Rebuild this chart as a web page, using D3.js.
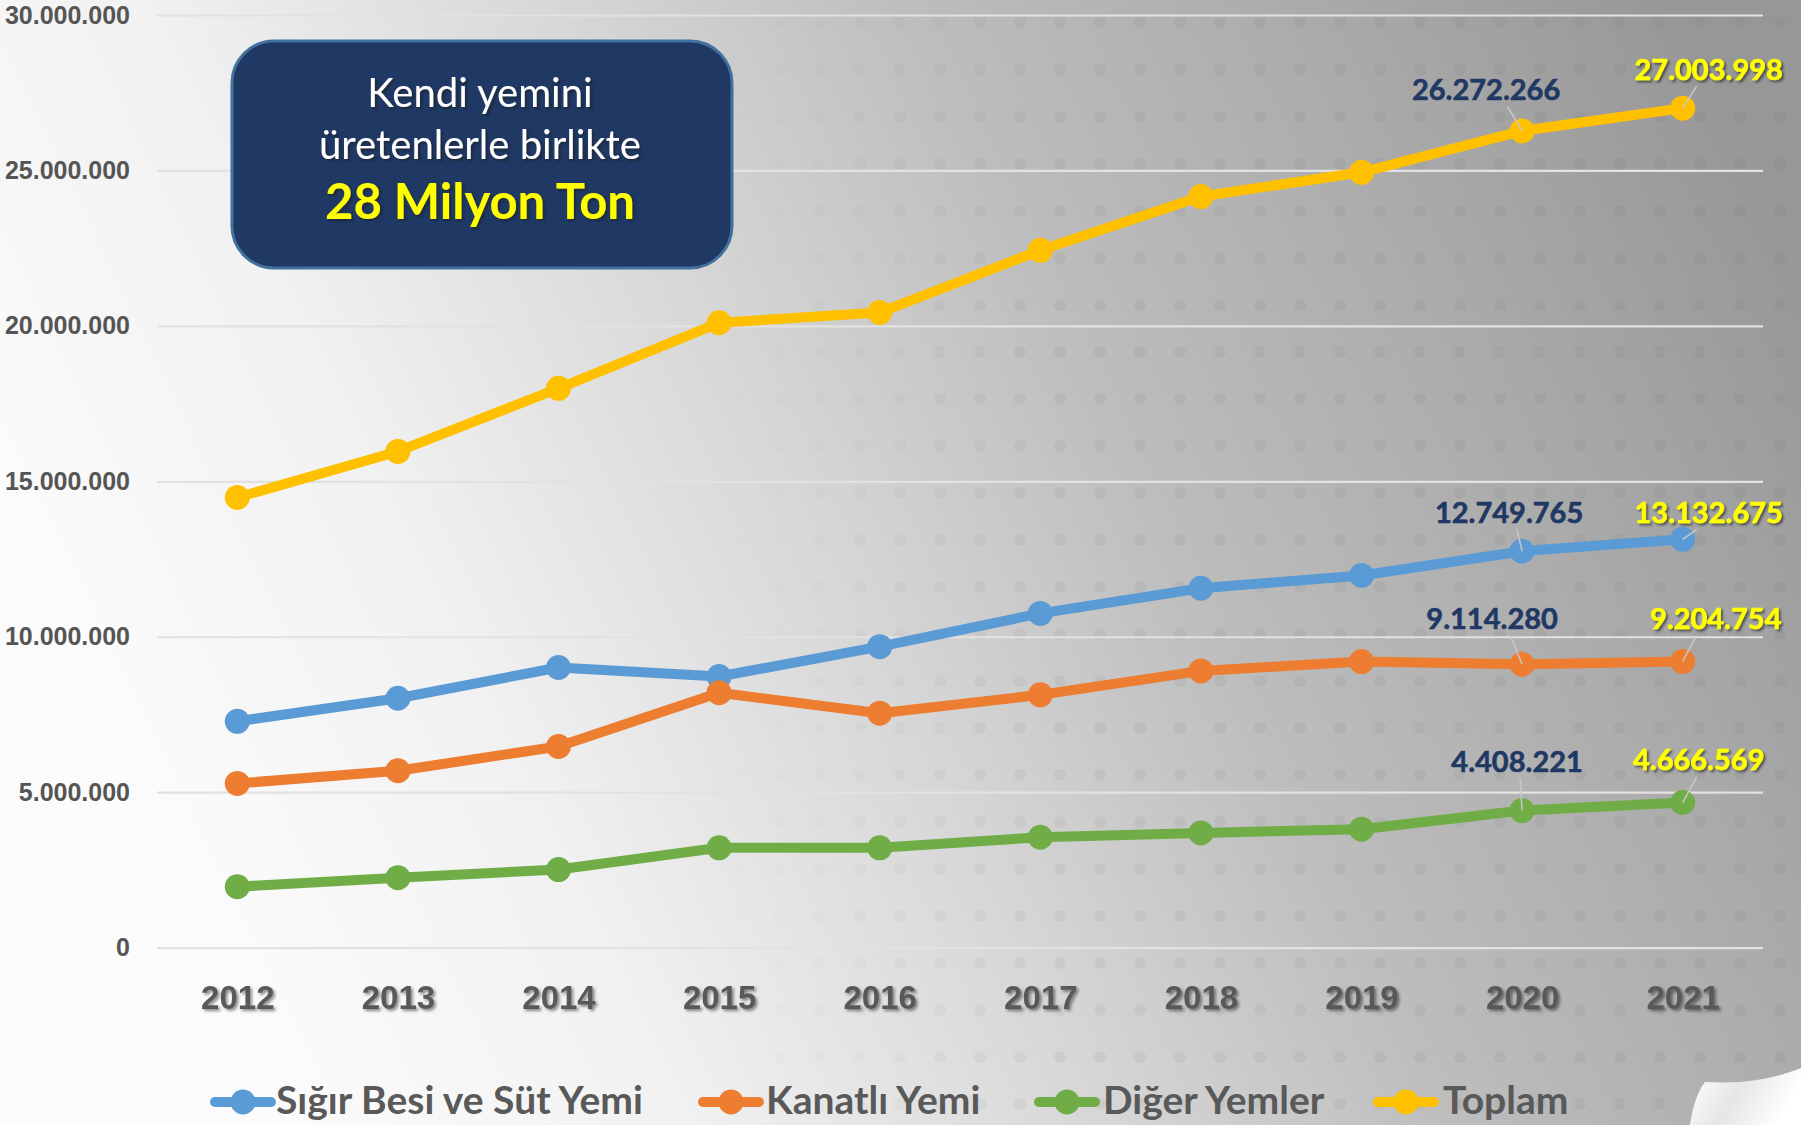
<!DOCTYPE html>
<html>
<head>
<meta charset="utf-8">
<script src="https://cdn.jsdelivr.net/npm/d3@7"></script>
<style>
  html, body { margin: 0; padding: 0; background: #fff; }
  svg { display: block; font-family: Lato, "Open Sans", sans-serif; }
</style>
</head>
<body>
<script>
// veriler (ton)
let yillar = [2012, 2013, 2014, 2015, 2016, 2017, 2018, 2019, 2020, 2021];
let sigirBesi = [7280000, 8020000, 9010000, 8720000, 9680000, 10750000, 11560000, 11970000, 12749765, 13132675];
let kanatli = [5280000, 5690000, 6470000, 8200000, 7540000, 8130000, 8900000, 9200000, 9114280, 9204754];
let digerYemler = [1960000, 2250000, 2510000, 3210000, 3210000, 3550000, 3690000, 3810000, 4408221, 4666569];
let toplam = [14480000, 15960000, 17990000, 20100000, 20430000, 22430000, 24160000, 24940000, 26272266, 27003998];
let seriAdlari = ["Sığır Besi ve Süt Yemi", "Kanatlı Yemi", "Diğer Yemler", "Toplam"];
let yTikler = [0, 5000000, 10000000, 15000000, 20000000, 25000000, 30000000];
let kutuSatirlari = ["Kendi yemini", "üretenlerle birlikte", "28 Milyon Ton"];

let renkler = ["#5b9bd5", "#ed7d31", "#70ad47", "#ffc000"];
// etiket kaydirmalari [2020, 2021] (dx, dy)
let etiketKaydir = [
  [[-13, -39], [26, -27]],
  [[-30, -46], [33, -43]],
  [[-5, -49], [16, -43]],
  [[-36, -41], [26, -39]]
];

function graficar() {
  let w = 1801;
  let h = 1125;
  let svg = d3.select("body").append("svg").attr("width", w).attr("height", h);
  let defs = svg.append("defs");

  // arka plan (sol alt beyaz -> sag ust gri)
  let grad = defs.append("linearGradient").attr("id", "arka").attr("gradientUnits", "userSpaceOnUse")
    .attr("x1", 200).attr("y1", 900).attr("x2", 1750).attr("y2", 150);
  [[0, "#fbfbfb"], [0.2, "#f1f1f1"], [0.42, "#d6d6d6"], [0.6, "#bdbdbd"], [0.8, "#ababab"], [1, "#979797"]]
    .forEach(s => grad.append("stop").attr("offset", s[0]).attr("stop-color", s[1]));

  let nokta = defs.append("pattern").attr("id", "nokta").attr("width", 40).attr("height", 47)
    .attr("patternUnits", "userSpaceOnUse");
  nokta.append("circle").attr("cx", 20).attr("cy", 23).attr("r", 6).attr("fill", "#5a5a5a");

  let solma = defs.append("linearGradient").attr("id", "solma").attr("x1", 0).attr("y1", 0).attr("x2", 1).attr("y2", 0);
  [[0, 0], [0.3, 1], [1, 1]].forEach(s => solma.append("stop").attr("offset", s[0]).attr("stop-color", "#fff").attr("stop-opacity", s[1]));
  defs.append("mask").attr("id", "noktaMaske").append("rect").attr("x", 700).attr("y", 0)
    .attr("width", 1101).attr("height", 1125).attr("fill", "url(#solma)");

  let golge = defs.append("filter").attr("id", "golge").attr("x", -0.2).attr("y", -0.3).attr("width", 1.4).attr("height", 1.6);
  golge.append("feDropShadow").attr("dx", 2).attr("dy", 2).attr("stdDeviation", 1.5)
    .attr("flood-color", "#000").attr("flood-opacity", 0.45);

  let golge2 = defs.append("filter").attr("id", "golge2").attr("x", -0.2).attr("y", -0.3).attr("width", 1.4).attr("height", 1.6);
  golge2.append("feDropShadow").attr("dx", 2).attr("dy", 2).attr("stdDeviation", 1.2)
    .attr("flood-color", "#222").attr("flood-opacity", 0.6);

  svg.append("rect").attr("width", w).attr("height", h).attr("fill", "url(#arka)");
  svg.append("rect").attr("x", 700).attr("y", 0).attr("width", 1101).attr("height", 1125)
    .attr("fill", "url(#nokta)").attr("opacity", 0.07).attr("mask", "url(#noktaMaske)");

  // olcekler
  let x = d3.scalePoint().domain(yillar).range([157, 1763]).padding(0.5);
  let y = d3.scaleLinear().domain([0, 30000000]).range([947.6, 15]);
  let tr = d3.formatLocale({ decimal: ",", thousands: ".", grouping: [3], currency: ["", ""] });
  let fmt = tr.format(",d");

  // y ekseni + izgara
  let yEksen = svg.append("g").attr("transform", "translate(157,0)")
    .call(d3.axisLeft(y).tickValues(yTikler).tickFormat(fmt).tickSize(-1606).tickPadding(27));
  yEksen.select(".domain").remove();
  yEksen.selectAll("line").attr("stroke", "#e2e2e2").attr("stroke-width", 2.2);
  yEksen.selectAll("text").attr("fill", "#555555").attr("font-size", 25).attr("font-weight", 700);

  // x ekseni
  let xEksen = svg.append("g").attr("transform", "translate(0,947.6)")
    .call(d3.axisBottom(x).tickSize(0).tickPadding(38));
  xEksen.select(".domain").remove();
  xEksen.selectAll("text").attr("fill", "#595959").attr("font-size", 33).attr("font-weight", 700)
    .attr("filter", "url(#golge)");

  // kutu
  svg.append("rect").attr("x", 232).attr("y", 41).attr("width", 500).attr("height", 227).attr("rx", 42)
    .attr("fill", "#1f3864").attr("stroke", "#41719c").attr("stroke-width", 3);
  svg.selectAll(".kutu")
    .data(kutuSatirlari)
    .enter()
    .append("text")
    .attr("class", "kutu")
    .attr("x", 480)
    .attr("y", function (d, i) { return [107, 159, 219][i]; })
    .attr("text-anchor", "middle")
    .attr("fill", function (d, i) { return i == 2 ? "#ffff00" : "#ffffff"; })
    .attr("font-size", function (d, i) { return i == 2 ? 49 : 40; })
    .attr("font-weight", function (d, i) { return i == 2 ? 700 : 400; })
    .attr("filter", "url(#golge2)")
    .text(function (d) { return d; });

  // seriler
  let seriler = [sigirBesi, kanatli, digerYemler, toplam];
  let cizgi = d3.line().x(function (d, i) { return x(yillar[i]); }).y(function (d) { return y(d); });

  seriler.forEach(function (s, k) {
    svg.append("path").datum(s).attr("d", cizgi).attr("fill", "none")
      .attr("stroke", renkler[k]).attr("stroke-width", 10).attr("stroke-linejoin", "round");
    svg.selectAll(".nokta" + k)
      .data(s)
      .enter()
      .append("circle")
      .attr("cx", function (d, i) { return x(yillar[i]); })
      .attr("cy", function (d) { return y(d); })
      .attr("r", 12.5)
      .attr("fill", renkler[k]);
  });

  // veri etiketleri (2020 ve 2021)
  seriler.forEach(function (s, k) {
    [8, 9].forEach(function (i, j) {
      let px = x(yillar[i]);
      let py = y(s[i]);
      let o = etiketKaydir[k][j];
      let lx = j == 0 ? px + o[0] * 0.4 : px + 14;
      let ly = py + o[1] + 17;
      svg.append("line").attr("x1", px).attr("y1", py).attr("x2", lx).attr("y2", ly)
        .attr("stroke", "#c8c8c8").attr("stroke-width", 1.5);
      svg.append("text")
        .attr("x", px + o[0])
        .attr("y", py + o[1])
        .attr("dy", "0.36em")
        .attr("text-anchor", "middle")
        .attr("font-size", 29)
        .attr("font-weight", 700)
        .attr("fill", j == 0 ? "#1f3864" : "#ffff00")
        .attr("stroke", j == 0 ? "#1f3864" : "#ffff00")
        .attr("stroke-width", 0.6)
        .attr("filter", j == 0 ? null : "url(#golge2)")
        .text(fmt(s[i]));
    });
  });

  // sayfa kivrimi
  let kiv = defs.append("linearGradient").attr("id", "kiv").attr("x1", 0).attr("y1", 0).attr("x2", 1).attr("y2", 0.3);
  [[0, "#ffffff"], [0.5, "#e6e6e6"], [1, "#ffffff"]].forEach(s => kiv.append("stop").attr("offset", s[0]).attr("stop-color", s[1]));
  svg.append("path").attr("d", "M1801,1068 C1770,1080 1745,1084 1705,1082 C1695,1095 1692,1112 1690,1125 L1801,1125 Z")
    .attr("fill", "url(#kiv)");

  // lejant
  let lejX = [[215, 276], [703, 766], [1039, 1103], [1378, 1443]];
  let lej = svg.selectAll(".lej")
    .data(seriAdlari)
    .enter()
    .append("g")
    .attr("class", "lej");
  lej.append("line")
    .attr("x1", function (d, i) { return lejX[i][0]; })
    .attr("x2", function (d, i) { return lejX[i][0] + 56; })
    .attr("y1", 1102).attr("y2", 1102)
    .attr("stroke", function (d, i) { return renkler[i]; })
    .attr("stroke-width", 10).attr("stroke-linecap", "round");
  lej.append("circle")
    .attr("cx", function (d, i) { return lejX[i][0] + 28; })
    .attr("cy", 1102).attr("r", 12.5)
    .attr("fill", function (d, i) { return renkler[i]; });
  lej.append("text")
    .attr("x", function (d, i) { return lejX[i][1]; })
    .attr("y", 1114)
    .attr("font-size", 39)
    .attr("font-weight", 700)
    .attr("fill", "#595959")
    .text(function (d) { return d; });
}

graficar();
</script>
</body>
</html>
